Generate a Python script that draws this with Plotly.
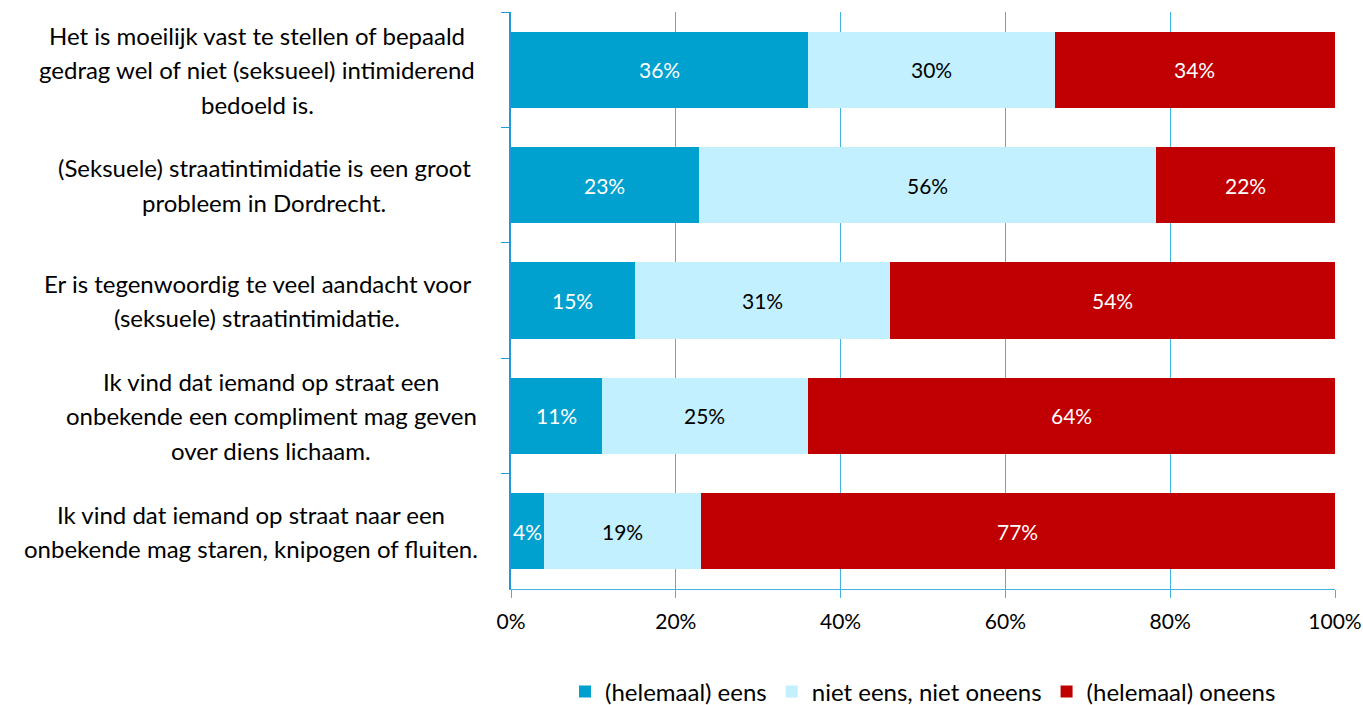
import plotly.graph_objects as go

# Survey statements (top to bottom), wrapped as they are displayed
statements = [
    ["Het is moeilijk vast te stellen of bepaald",
     "gedrag wel of niet (seksueel) intimiderend",
     "bedoeld is."],
    ["(Seksuele) straatintimidatie is een groot",
     "probleem in Dordrecht."],
    ["Er is tegenwoordig te veel aandacht voor",
     "(seksuele) straatintimidatie."],
    ["Ik vind dat iemand op straat een",
     "onbekende een compliment mag geven",
     "over diens lichaam."],
    ["Ik vind dat iemand op straat naar een",
     "onbekende mag staren, knipogen of fluiten."],
]
categories = ["S1", "S2", "S3", "S4", "S5"]

series_names = ["(helemaal) eens", "niet eens, niet oneens", "(helemaal) oneens"]
eens = [36, 23, 15, 11, 4]
neutraal = [30, 56, 31, 25, 19]
oneens = [34, 22, 54, 64, 77]

colors = ["#00A1CF", "#C3F0FF", "#C00000"]
text_colors = ["white", "black", "white"]

FONT = "Lato, Open Sans, sans-serif"
GRID_BLUE = "#45B3E0"
AXIS_BLUE = "#1E9AD6"

W, H = 1363, 705
ML, MR, MT, MB = 511, 28, 12, 116
plot_w = W - ML - MR

series = [eens, neutraal, oneens]

fig = go.Figure()
for name, vals, col in zip(series_names, series, colors):
    fig.add_trace(go.Bar(
        y=categories, x=vals, name=name, orientation="h",
        marker=dict(color=col, line=dict(width=0)),
        hovertemplate="%{x:.0f}%<extra>" + name + "</extra>",
    ))

# Value labels centred in each segment of the 100% stacked bars
for r, cat in enumerate(categories):
    row = [s[r] for s in series]
    total = sum(row)
    start = 0.0
    for v, tcol in zip(row, text_colors):
        share = v / total * 100
        fig.add_annotation(
            x=start + share / 2, y=cat, xref="x", yref="y",
            text=f"{v}%", showarrow=False,
            font=dict(size=21, color=tcol, family=FONT),
        )
        start += share

# Category labels: each line centred within its text block, one annotation
# per line so the line spacing can be set
label_centres_px = [257, 264, 257, 271, 251]
line_gap = 34.5
for cat, lines, cx in zip(categories, statements, label_centres_px):
    n = len(lines)
    for i, line in enumerate(lines):
        offset = ((n - 1) / 2 - i) * line_gap
        fig.add_annotation(
            x=(cx - ML) / plot_w, xref="paper", xanchor="center",
            y=cat, yref="y", yshift=offset, yanchor="middle",
            text=line, showarrow=False,
            font=dict(size=24, color="black", family=FONT),
        )

fig.update_layout(
    barmode="stack", barnorm="percent", bargap=0.34,
    width=W, height=H,
    margin=dict(l=ML, r=MR, t=MT, b=MB, autoexpand=False),
    plot_bgcolor="white", paper_bgcolor="white",
    font=dict(family=FONT, size=21, color="black"),
    legend=dict(
        orientation="h", x=0.5, xanchor="center",
        yref="container", y=(H - 692) / H, yanchor="middle",
        font=dict(size=24, family=FONT), traceorder="normal",
    ),
    showlegend=True,
)
fig.update_xaxes(
    range=[0, 100], dtick=20, ticksuffix="%",
    showgrid=True, gridcolor=GRID_BLUE, gridwidth=1,
    showline=True, linecolor=GRID_BLUE, linewidth=1,
    ticks="outside", ticklen=8, tickcolor=GRID_BLUE,
    ticklabelstandoff=6,
    tickfont=dict(size=21, family=FONT), zeroline=False, automargin=False,
)
fig.update_yaxes(
    autorange="reversed", showticklabels=False,
    showline=True, linecolor=AXIS_BLUE, linewidth=1.5,
    ticks="outside", tickson="boundaries", ticklen=8, tickcolor=AXIS_BLUE,
    showgrid=False, automargin=False,
)

fig.write_html("out.html")
